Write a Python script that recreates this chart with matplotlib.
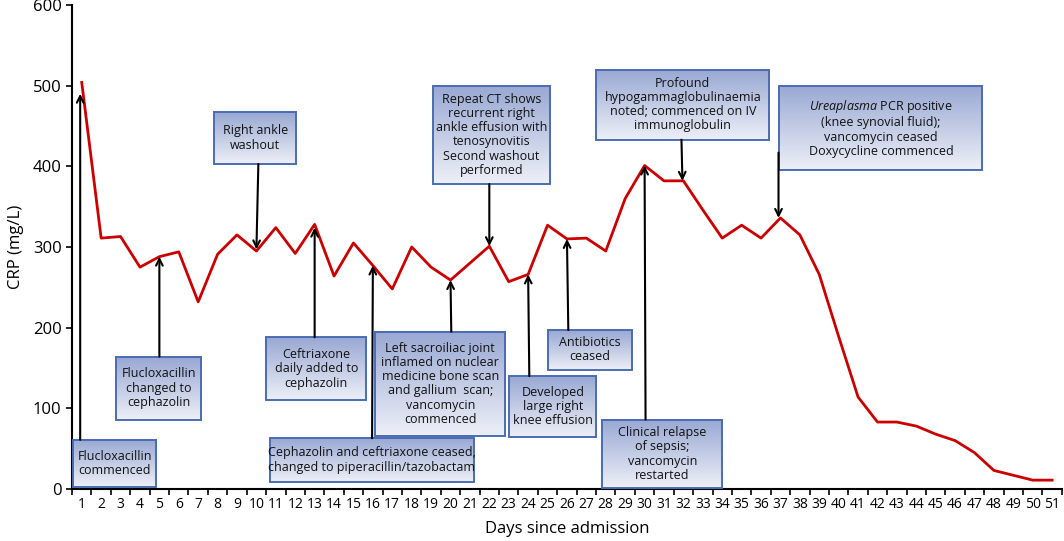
import numpy as np
import matplotlib
matplotlib.use("Agg")
import matplotlib.pyplot as plt
from matplotlib.patches import Rectangle

plt.rcParams['font.family'] = ['Open Sans', 'DejaVu Sans']
plt.rcParams['mathtext.fontset'] = 'custom'
plt.rcParams['mathtext.it'] = 'Open Sans:italic'
plt.rcParams['mathtext.rm'] = 'Open Sans'

# CRP by day since admission
days = list(range(1, 52))
crp = [504, 311, 313, 275, 288, 294, 232, 291, 315, 295,
       324, 292, 328, 264, 305, 277, 248, 300, 275, 259,
       280, 301, 257, 266, 327, 310, 311, 295, 360, 401,
       382, 382, 346, 311, 327, 311, 336, 315, 266, 189,
       114, 83, 83, 78, 68, 60, 45, 23, 17, 11, 11]

# events: day the arrow points to, and the note
event_days = [1, 5, 10, 13, 16, 20, 22, 24, 26, 30, 32, 37]
event_notes = [
    "Flucloxacillin\ncommenced",
    "Flucloxacillin\nchanged to\ncephazolin",
    "Right ankle\nwashout",
    "Ceftriaxone\ndaily added to\ncephazolin",
    "Cephazolin and ceftriaxone ceased,\nchanged to piperacillin/tazobactam",
    "Left sacroiliac joint\ninflamed on nuclear\nmedicine bone scan\nand gallium  scan;\nvancomycin\ncommenced",
    "Repeat CT shows\nrecurrent right\nankle effusion with\ntenosynovitis\nSecond washout\nperformed",
    "Developed\nlarge right\nknee effusion",
    "Antibiotics\nceased",
    "Clinical relapse\nof sepsis;\nvancomycin\nrestarted",
    "Profound\nhypogammaglobulinaemia\nnoted; commenced on IV\nimmunoglobulin",
    "$\\it{Ureaplasma}$ PCR positive\n(knee synovial fluid);\nvancomycin ceased\nDoxycycline commenced",
]

# layout of the note boxes: (x0, x1, y0, y1) and arrow start (x, y)
boxes = [(0.55, 4.83, 2, 61), (2.77, 7.16, 86, 164), (7.82, 12.05, 403, 467),
         (10.5, 15.66, 110, 188), (10.7, 21.2, 9, 63), (16.12, 22.82, 66, 195),
         (19.1, 25.14, 378, 500), (23.03, 27.52, 65, 140), (25.0, 29.37, 148, 197),
         (27.82, 34.0, 1, 86), (27.51, 36.43, 433, 520), (36.95, 47.41, 395, 500)]
arrow_from = [(0.92, 61), (5, 164), (10.1, 403), (13, 188), (15.96, 63), (20.04, 195),
              (22, 378), (24.06, 140), (26.07, 197), (30.05, 86), (31.9, 433), (36.9, 417)]
arrow_dx = [-0.08, 0, 0, 0, 0, 0, 0, 0, 0, 0, -0.05, -0.1]
arrow_dy = [-14, 0, 2, -4, 0, 0, 0, 0, 0, 0, 0, 0]

fig = plt.figure(figsize=(10.64, 5.41), dpi=100)
ax = fig.add_axes([0.0677, 0.0961, 0.9303, 0.8947])

ax.plot(days, crp, color='#cc0000', lw=2, zorder=2)

# vertical gradient, darker at the top
grad = np.linspace(0, 1, 64).reshape(-1, 1)
top = np.array([0.60, 0.66, 0.83])
bot = np.array([0.93, 0.94, 0.97])
img = top + (bot - top) * grad[:, :, None]

for (x0, x1, y0, y1), note in zip(boxes, event_notes):
    ax.imshow(img, extent=[x0, x1, y0, y1], aspect='auto', zorder=3,
              interpolation='bilinear')
    ax.add_patch(Rectangle((x0, y0), x1 - x0, y1 - y0, fill=False,
                           ec='#4a6cb3', lw=1.4, zorder=4))
    ax.text((x0 + x1) / 2, (y0 + y1) / 2, note, ha='center', va='center',
            multialignment='center', fontsize=9, color='#111111',
            linespacing=1.12, zorder=5)

for d, (sx, sy), dx, dy in zip(event_days, arrow_from, arrow_dx, arrow_dy):
    ax.annotate('', xy=(d + dx, crp[d - 1] + dy), xytext=(sx, sy),
                arrowprops=dict(arrowstyle='->', color='black', lw=1.5,
                                mutation_scale=12, shrinkA=0, shrinkB=0),
                zorder=6)

ax.set_xlim(0.5, 51.5)
ax.set_ylim(0, 600)
ax.set_xticks(days)
ax.set_xticklabels([str(d) for d in days], fontsize=10)
ax.set_xticks(np.arange(0.5, 52, 1), minor=True)
ax.tick_params(axis='x', which='major', length=0, pad=6)
ax.tick_params(axis='x', which='minor', length=4, width=1.2, direction='out')
ax.set_yticks(range(0, 601, 100))
ax.tick_params(axis='y', labelsize=12, length=4, width=1.2)
ax.spines['top'].set_visible(False)
ax.spines['right'].set_visible(False)
ax.spines['left'].set_linewidth(1.5)
ax.spines['bottom'].set_linewidth(1.5)
ax.set_ylabel('CRP (mg/L)', fontsize=12, labelpad=6)
ax.set_xlabel('Days since admission', fontsize=12, labelpad=6)

fig.savefig('out.png', dpi=100)
